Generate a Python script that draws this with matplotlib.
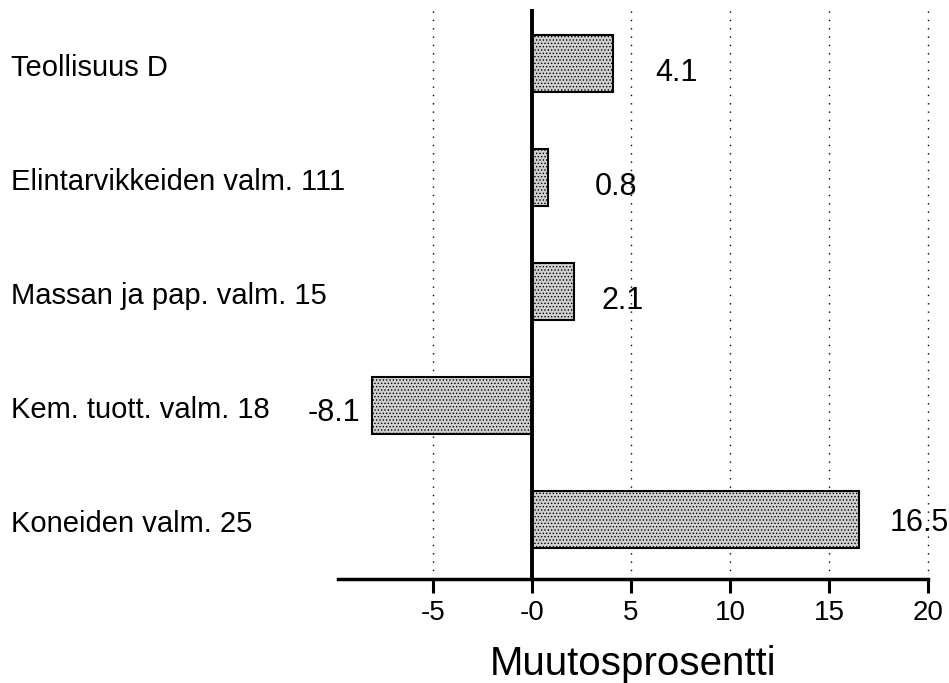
import matplotlib.pyplot as plt
from matplotlib.transforms import blended_transform_factory

plt.rcParams['font.family'] = ['Liberation Sans', 'DejaVu Sans']
plt.rcParams['hatch.color'] = '#555555'
plt.rcParams['hatch.linewidth'] = 0.6

# data (ylhäältä alas)
categories = ['Teollisuus D', 'Elintarvikkeiden valm. 111', 'Massan ja pap. valm. 15',
              'Kem. tuott. valm. 18', 'Koneiden valm. 25']
values = [4.1, 0.8, 2.1, -8.1, 16.5]
value_labels = ['4.1', '0.8', '2.1', '-8.1', '16.5']
xticks = [-5, 0, 5, 10, 15, 20]
xtick_labels = ['-5', '-0', '5', '10', '15', '20']

fig = plt.figure(figsize=(9.49, 6.83), dpi=100)
ax = fig.add_axes([0.356, 0.152, 0.622, 0.835])

n = len(categories)
ypos = [n - 1 - i for i in range(n)]

ax.barh(ypos, values, height=0.5, color='#d0d0d0', edgecolor='black',
        linewidth=1.5, hatch='.....', zorder=3)

# pystysuora viiva nollassa
ax.axvline(0, color='black', linewidth=2.8, zorder=4)

# arvot pylväiden viereen (siirto pisteinä)
offsets = [(30, -7), (34, -7), (20, -7), (-8, -5), (22, -2)]
for y, v, lab, off in zip(ypos, values, value_labels, offsets):
    ax.annotate(lab, (v, y), xytext=off, textcoords='offset points',
                ha='left' if v >= 0 else 'right', va='center', fontsize=22)

# kategorioiden nimet vasempaan reunaan
tr = blended_transform_factory(ax.transAxes, ax.transData)
for y, c in zip(ypos, categories):
    ax.text(-0.553, y - 0.04, c, transform=tr, ha='left', va='center', fontsize=21)

ax.set_xlim(-9.8, 20)
ax.set_ylim(-0.52, 4.48)
ax.set_xticks(xticks)
ax.set_xticklabels(xtick_labels, fontsize=20)
ax.set_yticks([])
ax.tick_params(axis='x', direction='out', length=10, width=2.2, pad=5)

for x in [-5, 5, 10, 15, 20]:
    ax.axvline(x, color='black', linestyle=(0, (1, 5)), linewidth=1, zorder=1,
               clip_on=False)

for s in ['top', 'right', 'left']:
    ax.spines[s].set_visible(False)
ax.spines['bottom'].set_linewidth(2.5)

ax.set_xlabel('Muutosprosentti', fontsize=29, labelpad=14)

plt.savefig('out.png')
